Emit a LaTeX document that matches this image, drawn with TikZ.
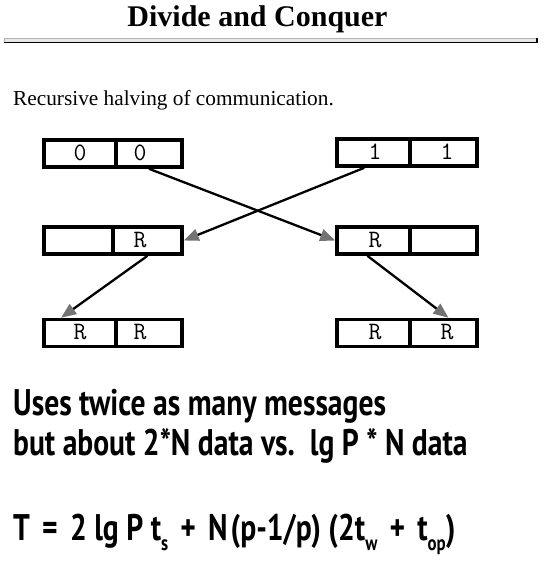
\documentclass[tikz,border=0pt]{standalone}
\usepackage{fontspec}
\setmainfont{Liberation Serif}
\newfontfamily\bigsans[FakeStretch=0.8]{PT Sans}
\usetikzlibrary{arrows.meta,calc}
\newcommand\lowsub[1]{\raisebox{-0.28em}{\fontsize{21}{21}\selectfont #1}}
\newcommand\opsp[1]{\hspace{0.33em}#1\hspace{0.33em}}
\tikzset{
  cell/.style={draw, line width=3.6pt, inner sep=0pt, minimum height=27pt},
  celltext/.style={font=\ttfamily\fontsize{25}{25}\selectfont, inner sep=0pt},
  msg/.style={draw=black, line width=2.3pt, -{Triangle[length=15pt,width=12pt,color=black!55]}},
  bigline/.style={font=\bigsans\bfseries\fontsize{37}{37}\selectfont, anchor=base west, inner sep=0pt}
}
\begin{document}
\begin{tikzpicture}[x=1pt,y=-1pt]
\fill[white] (0,0) rectangle (544,561);
\useasboundingbox (0,0) rectangle (544,561);
% title
\node[font=\bfseries\fontsize{30}{30}\selectfont, anchor=base, inner sep=0pt] (title) at (257.5,27) {Divide and Conquer};
% rule
\fill[gray!18] (4,38) rectangle (537,43);
\draw[gray!60, line width=0.6pt] (4,43) -- (4,38) -- (537,38);
\draw[black, line width=1.4pt] (4,42.5) -- (537,42.5) -- (537,38);
% subtitle
\node[font=\fontsize{21.3}{21.3}\selectfont, anchor=base west, inner sep=0pt] (sub) at (13,106) {Recursive halving of communication.};
% cells
\node[cell, minimum width=72pt] (tl-a) at (80,153.5) {};
\node[cell, minimum width=66pt] (tl-b) at (149,153.5) {};
\node[cell, minimum width=73pt] (tr-a) at (373.5,152.5) {};
\node[cell, minimum width=67pt] (tr-b) at (443.5,152.5) {};
\node[cell, minimum width=69pt] (ml-a) at (78.5,240.5) {};
\node[cell, minimum width=69pt] (ml-b) at (147.5,240.5) {};
\node[cell, minimum width=73pt] (mr-a) at (373.5,240.5) {};
\node[cell, minimum width=67pt] (mr-b) at (443.5,240.5) {};
\node[cell, minimum width=72pt] (bl-a) at (80,333) {};
\node[cell, minimum width=66pt] (bl-b) at (149,333) {};
\node[cell, minimum width=73pt] (br-a) at (373.5,333) {};
\node[cell, minimum width=67pt] (br-b) at (443.5,333) {};
% cell texts
\node[celltext] (t1) at (80,153) {0};
\node[celltext] (t2) at (140,153) {0};
\node[celltext] (t3) at (375,152) {1};
\node[celltext] (t4) at (447,152) {1};
\node[celltext] (t5) at (140,240) {R};
\node[celltext] (t6) at (375,240) {R};
\node[celltext] (t7) at (80,332) {R};
\node[celltext] (t8) at (140,332) {R};
\node[celltext] (t9) at (375,332) {R};
\node[celltext] (t10) at (447,332) {R};
% arrows
\draw[msg] (tl-b.south) -- (mr-a.west);
\draw[msg] ($(tr-a.south west)!0.38!(tr-a.south east)$) -- (ml-b.east);
\draw[msg] (ml-b.south) -- ($(bl-a.north west)!0.25!(bl-a.north east)$);
\draw[msg] ($(mr-a.south west)!0.42!(mr-a.south east)$) -- ($(br-b.north west)!0.57!(br-b.north east)$);
% bottom text
\node[bigline] (l1) at (13,415) {Uses twice as many messages};
\node[bigline] (l2) at (13,455) {but about 2*N data vs.\ \ lg P * N data};
\node[bigline] (l3) at (13,540) {T\opsp{=}2 lg P t\lowsub{s}\opsp{+}N\hspace{0.08em}(p-1/p) (2t\lowsub{w}\opsp{+}t\lowsub{op})};
\end{tikzpicture}
\end{document}
